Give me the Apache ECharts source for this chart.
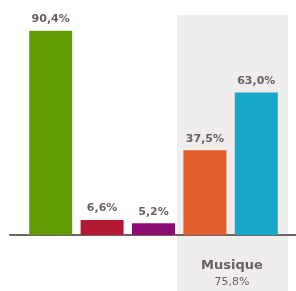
<!DOCTYPE html>
<html>
<head>
<meta charset="utf-8">
<script src="https://cdn.jsdelivr.net/npm/echarts@6/dist/echarts.min.js"></script>
<style>
  html, body { margin: 0; padding: 0; background: #fff; }
  #chart { width: 296px; height: 291px; }
</style>
</head>
<body>
<div id="chart"></div>
<script>
// données
const categories = ["cat1", "cat2", "cat3", "cat4", "cat5"];
const values = [90.4, 6.6, 5.2, 37.5, 63.0];
const barColors = ["#5f9c00", "#b51832", "#8d0c72", "#e45e2b", "#16a7c9"];
const groupName = "Musique";
const groupValue = 75.8;

const textColor = "#6b5f62";
const fmt = (v) => v.toFixed(1).replace(".", ",") + "%";

let myChart = echarts.init(document.getElementById("chart"));
myChart.setOption({
  animation: false,
  textStyle: { fontFamily: "DejaVu Sans" },
  graphic: [
    {
      type: "rect",
      z: -10,
      shape: { x: 177, y: 15, width: 111, height: 276 },
      style: { fill: "#f0eeed" },
    },
    {
      type: "text",
      x: 232,
      y: 266,
      style: {
        text: groupName,
        fill: textColor,
        font: "bold 13px 'DejaVu Sans'",
        align: "center",
        verticalAlign: "middle",
      },
    },
    {
      type: "text",
      x: 232,
      y: 282,
      style: {
        text: fmt(groupValue),
        fill: textColor,
        font: "11px 'DejaVu Sans'",
        align: "center",
        verticalAlign: "middle",
      },
    },
  ],
  grid: [
    { left: 25, right: 14, top: 9, bottom: 56 },
    { left: 10, right: 0, top: 9, bottom: 56 },
  ],
  xAxis: [
    {
      type: "category",
      gridIndex: 0,
      data: categories,
      axisLine: { show: false },
      axisTick: { show: false },
      axisLabel: { show: false },
    },
    {
      type: "category",
      gridIndex: 1,
      data: [],
      axisLine: { show: true, lineStyle: { color: "#6e6467", width: 2 } },
      axisTick: { show: false },
      axisLabel: { show: false },
    },
  ],
  yAxis: [
    { type: "value", gridIndex: 0, min: 0, max: 100, show: false },
    { type: "value", gridIndex: 1, min: 0, max: 100, show: false },
  ],
  series: [
    {
      type: "bar",
      xAxisIndex: 0,
      yAxisIndex: 0,
      barWidth: 43,
      data: values.map((v, i) => ({ value: v, itemStyle: { color: barColors[i] } })),
      label: {
        show: true,
        position: "top",
        distance: 6,
        color: textColor,
        fontWeight: "bold",
        fontSize: 11,
        formatter: (p) => fmt(p.value),
      },
    },
  ],
});
</script>
</body>
</html>
